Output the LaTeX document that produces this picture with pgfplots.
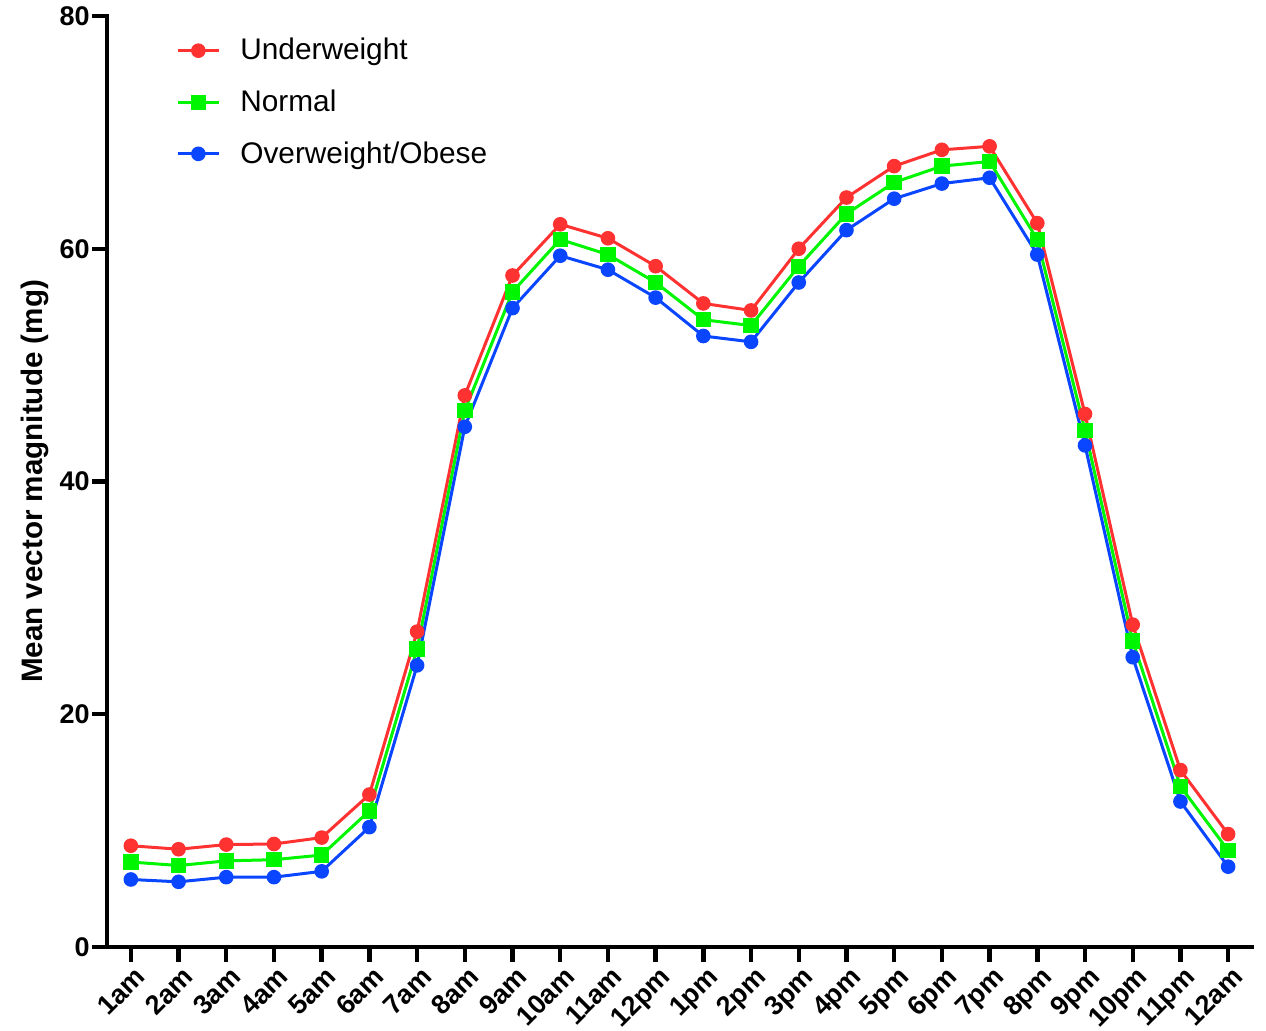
\documentclass[border=0pt]{standalone}
\usepackage{fontspec}
\setmainfont{Liberation Sans}
\usepackage{pgfplots}
\pgfplotsset{compat=1.18}
\definecolor{cUnder}{RGB}{255,50,50}
\definecolor{cNormal}{RGB}{0,245,0}
\definecolor{cOver}{RGB}{10,70,255}
\begin{document}
\begin{tikzpicture}
% page = 1266x1031 px at 0.5pt per px, axis box from (0,0) to (572.5pt,465.5pt)
\useasboundingbox (-53.5pt,-42pt) rectangle (579.5pt,473.5pt);
\begin{axis}[
    at={(0,0)}, anchor=south west,
    scale only axis,
    width=572.5pt, height=465.5pt,
    xmin=-0.5, xmax=23.5,
    ymin=0, ymax=80,
    axis lines*=left,
    axis line style={line width=2.2pt, line cap=rect},
    xtick={0,...,23},
    xticklabels={1am,2am,3am,4am,5am,6am,7am,8am,9am,10am,11am,12pm,1pm,2pm,3pm,4pm,5pm,6pm,7pm,8pm,9pm,10pm,11pm,12am},
    ytick={0,20,40,60,80},
    tick align=outside,
    major tick length=7.5pt,
    tick style={line width=2.2pt, black},
    /pgf/number format/assume math mode=true,
    ticklabel style={font=\fontsize{13.5}{15}\selectfont\bfseries},
    x tick label style={rotate=45, anchor=north east, inner sep=0pt, xshift=0pt, yshift=-2pt},
    y tick label style={inner sep=1pt},
    ylabel={Mean vector magnitude (mg)},
    ylabel style={font=\fontsize{14.8}{17}\selectfont\bfseries,
        at={(axis description cs:-0.0629,0.5)}, anchor=center},
    legend style={draw=none, fill=none, at={(0.055,0.985)}, anchor=north west,
        font=\fontsize{14.9}{17}\selectfont, row sep=9.5pt,
        /tikz/every odd column/.append style={column sep=8pt}},
    legend cell align=left,
    legend image code/.code={\draw[mark repeat=2,mark phase=2] plot coordinates {(0pt,0pt)(10.25pt,0pt)(20.5pt,0pt)};},
    every axis plot/.append style={line width=1.5pt},
]
\addplot[cUnder, mark=*, mark size=2.9pt, mark options={solid}] coordinates {
(0,8.7) (1,8.4) (2,8.8) (3,8.85) (4,9.4) (5,13.1) (6,27.1) (7,47.4) (8,57.7) (9,62.1) (10,60.9) (11,58.5)
(12,55.3) (13,54.7) (14,60.0) (15,64.4) (16,67.1) (17,68.5) (18,68.8) (19,62.2) (20,45.8) (21,27.7) (22,15.2) (23,9.7)};
\addplot[cNormal, mark=square*, mark size=3.1pt, mark options={solid}] coordinates {
(0,7.3) (1,7.0) (2,7.4) (3,7.5) (4,7.9) (5,11.7) (6,25.6) (7,46.1) (8,56.3) (9,60.8) (10,59.5) (11,57.1)
(12,53.9) (13,53.4) (14,58.5) (15,63.0) (16,65.7) (17,67.1) (18,67.5) (19,60.8) (20,44.4) (21,26.3) (22,13.8) (23,8.3)};
\addplot[cOver, mark=*, mark size=2.9pt, mark options={solid}] coordinates {
(0,5.8) (1,5.6) (2,6.0) (3,6.0) (4,6.5) (5,10.3) (6,24.2) (7,44.7) (8,54.9) (9,59.4) (10,58.2) (11,55.8)
(12,52.5) (13,52.0) (14,57.1) (15,61.6) (16,64.3) (17,65.6) (18,66.1) (19,59.5) (20,43.1) (21,24.9) (22,12.5) (23,6.9)};
\legend{Underweight, Normal, Overweight/Obese}
\end{axis}
\end{tikzpicture}
\end{document}
